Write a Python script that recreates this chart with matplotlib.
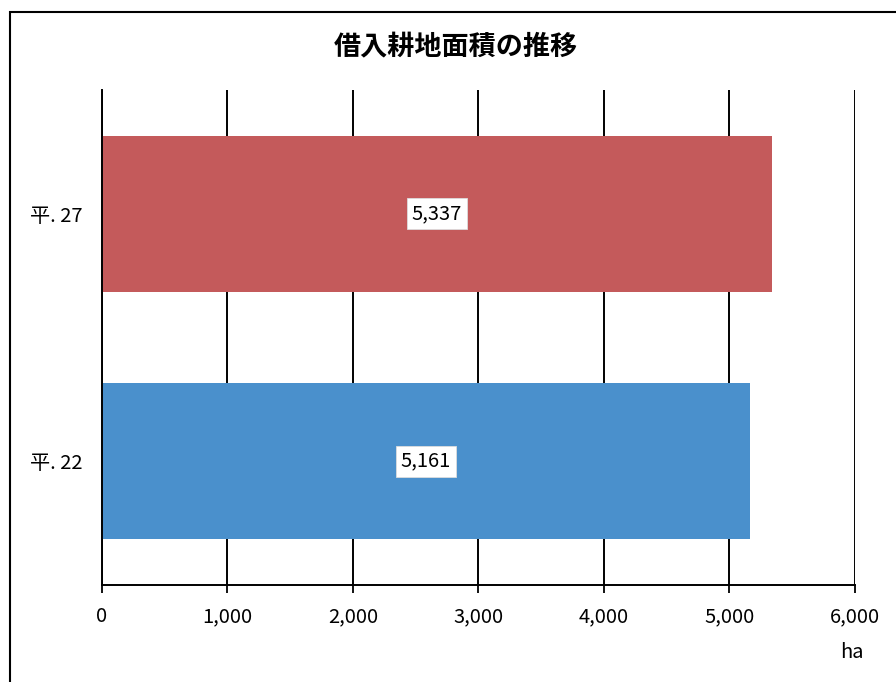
import matplotlib
matplotlib.use("Agg")
import matplotlib.pyplot as plt
from matplotlib.patches import Rectangle

plt.rcParams['font.family'] = ['Noto Sans CJK JP', 'DejaVu Sans']

# data
categories = ["平. 22", "平. 27"]
areas = [5161, 5337]
bar_colors = ["#4A90CC", "#C45A5B"]
xticks = [0, 1000, 2000, 3000, 4000, 5000, 6000]

fig = plt.figure(figsize=(8.96, 6.82), dpi=100)
ax = fig.add_axes([0.1138, 0.1422, 0.8404, 0.7258])

ypos = list(range(len(categories)))
ax.barh(ypos, areas, height=0.63, color=bar_colors, zorder=2)

# value labels in white boxes
for y, v in zip(ypos, areas):
    ax.text(v / 2, y, f"{v:,}", ha='center', va='center', fontsize=14.5,
            bbox=dict(boxstyle='square,pad=0.25', fc='white', ec='#dddddd', lw=0.6),
            zorder=3)

ax.set_xlim(0, 6000)
ax.set_ylim(-0.5, 1.5)
ax.set_xticks(xticks)
ax.set_xticklabels([f"{t:,}" for t in xticks], fontsize=14.5)
ax.set_yticks(ypos)
ax.set_yticklabels(categories, fontsize=14.5)
ax.tick_params(axis='y', length=0, pad=14)
ax.tick_params(axis='x', length=6, width=1.3, pad=9, direction='out')

ax.grid(True, axis='x', color='black', linewidth=1.4, zorder=1)
ax.set_axisbelow(True)
for s in ['top', 'right']:
    ax.spines[s].set_visible(False)
ax.spines['left'].set_linewidth(1.4)
ax.spines['bottom'].set_linewidth(1.4)

fig.text(456 / 896, 1 - 47 / 682, "借入耕地面積の推移", ha='center', va='center',
         fontsize=19.5, fontweight='bold')
fig.text(852 / 896, 1 - 652 / 682, "ha", ha='center', va='center', fontsize=14.5)

# chart area frame
fig.patches.append(Rectangle((10 / 896, -0.1), 1.2, 1.1 - 12 / 682,
                             transform=fig.transFigure, fill=False,
                             edgecolor='black', linewidth=1.5))

fig.savefig("out.png", dpi=100)
